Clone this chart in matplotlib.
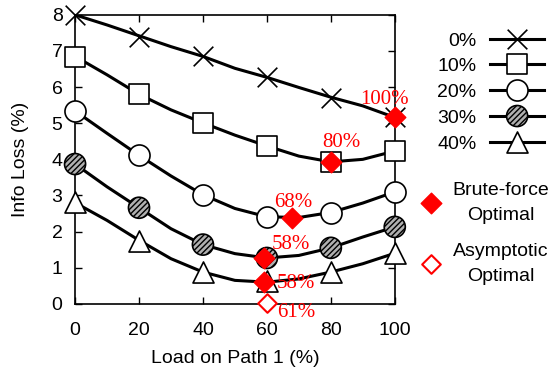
import matplotlib.pyplot as plt
from matplotlib.legend_handler import HandlerTuple

plt.rcParams['font.family'] = ['Liberation Sans', 'DejaVu Sans']
plt.rcParams['font.size'] = 14

# line samples (load on path 1, %)
line_x = [0, 10, 20, 30, 40, 50, 60, 70, 80, 90, 100]
loss_0 = [8.00, 7.72, 7.42, 7.12, 6.85, 6.52, 6.27, 5.99, 5.72, 5.48, 5.16]
loss_10 = [6.85, 6.34, 5.80, 5.37, 5.01, 4.67, 4.37, 4.09, 3.93, 4.00, 4.23]
loss_20 = [5.34, 4.72, 4.11, 3.54, 3.02, 2.64, 2.41, 2.39, 2.53, 2.79, 3.10]
loss_30 = [3.87, 3.24, 2.66, 2.08, 1.64, 1.39, 1.27, 1.34, 1.55, 1.85, 2.13]
loss_40 = [2.80, 2.31, 1.76, 1.25, 0.88, 0.65, 0.60, 0.69, 0.88, 1.11, 1.40]

# marker points
mark_x = [0, 20, 40, 60, 80, 100]
mark_0 = [8.00, 7.40, 6.86, 6.27, 5.71, 5.16]
mark_10 = [6.84, 5.80, 5.01, 4.37, 3.93, 4.23]
mark_20 = [5.34, 4.11, 3.02, 2.40, 2.52, 3.10]
mark_30 = [3.87, 2.66, 1.64, 1.27, 1.55, 2.13]
mark_40 = [2.82, 1.74, 0.88, 0.62, 0.88, 1.42]

brute_x = [100, 80, 68, 59, 59]
brute_y = [5.18, 3.93, 2.39, 1.27, 0.60]
brute_lbl = ['100%', '80%', '68%', '58%', '58%']
asym_x = [60]
asym_y = [0.02]
asym_lbl = ['61%']

fig = plt.figure(figsize=(5.56, 3.71), dpi=100)
ax = fig.add_axes([0.135, 0.181, 0.575, 0.779])

series = [
    ('0%', loss_0, mark_0, dict(marker='x', facecolors='black', s=200, linewidths=1.2)),
    ('10%', loss_10, mark_10, dict(marker='s', facecolors='white', s=220, linewidths=1.2)),
    ('20%', loss_20, mark_20, dict(marker='o', facecolors='white', s=230, linewidths=1.2)),
    ('30%', loss_30, mark_30, dict(marker='o', facecolors='#b0b0b0', s=230, linewidths=1.2, hatch='//////')),
    ('40%', loss_40, mark_40, dict(marker='^', facecolors='white', s=230, linewidths=1.2)),
]

handles = []
labels = []
for name, ly, my, kw in series:
    ln, = ax.plot(line_x, ly, color='black', lw=2.2, zorder=2)
    sc = ax.scatter(mark_x, my, edgecolors='black', zorder=3, clip_on=False, **kw)
    handles.append((ln, sc))
    labels.append(name)

bf = ax.scatter(brute_x, brute_y, marker='D', s=110, color='red', zorder=4, clip_on=False)
asy = ax.scatter(asym_x, asym_y, marker='D', s=90, facecolors='white', edgecolors='red',
                 linewidths=1.5, zorder=4, clip_on=False)

# label offsets in pixels (right, down)
serif = ['Liberation Serif', 'DejaVu Serif']
offsets = [(-10, -17), (11, -19), (1, -15), (27, -13), (32, 1)]
for x, y, t, (dx, dy) in zip(brute_x, brute_y, brute_lbl, offsets):
    ax.annotate(t, (x, y), xytext=(dx * 0.72, -dy * 0.72), textcoords='offset points',
                color='red', family=serif, fontsize=15, ha='center', va='center',
                zorder=5, annotation_clip=False)
for x, y, t in zip(asym_x, asym_y, asym_lbl):
    ax.annotate(t, (x, y), xytext=(29 * 0.72, -9 * 0.72), textcoords='offset points',
                color='red', family=serif, fontsize=15, ha='center', va='center',
                zorder=5, annotation_clip=False)

ax.set_xlim(0, 100)
ax.set_ylim(0, 8)
ax.set_xticks([0, 20, 40, 60, 80, 100])
ax.set_yticks(range(9))
ax.tick_params(direction='in', top=True, right=True, length=5, width=1)
ax.tick_params(axis='x', pad=13)
ax.tick_params(axis='y', pad=9)
for s in ax.spines.values():
    s.set_linewidth(1.2)
ax.set_xlabel('Load on Path 1 (%)', labelpad=8)
ax.set_ylabel('Info Loss (%)', labelpad=16)

leg1 = fig.legend(handles, labels, loc='upper right', bbox_to_anchor=(0.993, 0.935),
                  frameon=False, markerfirst=False, handlelength=2.8, labelspacing=0.42,
                  handletextpad=0.7, handler_map={tuple: HandlerTuple(ndivide=1)},
                  scatterpoints=1, scatteryoffsets=[0.5], borderaxespad=0)
leg2 = fig.legend([bf, asy], ['Brute-force\nOptimal', 'Asymptotic\nOptimal'],
                  loc='upper left', bbox_to_anchor=(0.727, 0.53), frameon=False,
                  scatterpoints=1, scatteryoffsets=[0.5], handletextpad=0.1,
                  labelspacing=1.0, borderaxespad=0)
for t in leg2.get_texts():
    t.set_ha('center')
    t.set_multialignment('center')
    t.set_linespacing(1.6)

fig.savefig('out.png', dpi=100)
